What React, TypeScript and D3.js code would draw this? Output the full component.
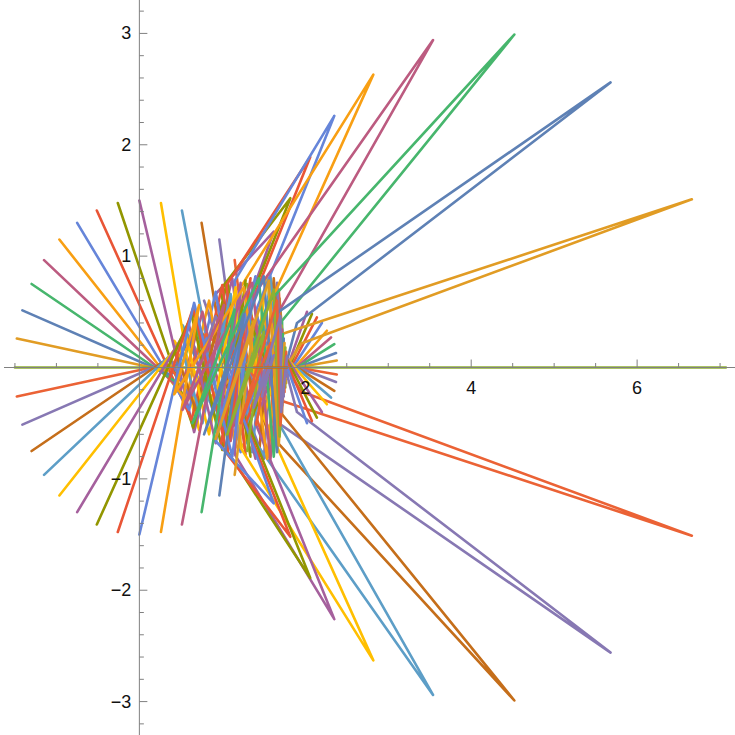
import * as d3 from 'd3';

// default Mathematica-ish palette, cycles every 15 series
const palette = [
  '#5E81B5', '#E19C24', '#8FB032', '#EB6235', '#8778B3',
  '#C56E1A', '#5D9EC7', '#FFBF00', '#A5609D', '#929600',
  '#E95536', '#6685D9', '#F89F13', '#BC5B80', '#47B66D',
];

// one polyline per start angle (10° .. 360°)
const s010 = [[1.477, 0.26], [1.62, -0.11], [1.38, 0.36], [1.7, -0.46], [1.71, 0.4], [1.78, -0.1], [1.76, 0.04]];
const s020 = [[1.41, 0.513], [1.58, -0.22], [1.22, 0.5], [1.66, -0.6], [1.7, 0.52], [1.77, -0.14], [1.75, 0.06]];
const s030 = [[1.299, 0.75], [1.5, -0.32], [1.06, 0.6], [1.62, -0.7], [1.69, 0.62], [1.76, -0.18], [1.74, 0.08]];
const s040 = [[1.149, 0.964], [1.38, -0.42], [0.92, 0.64], [1.56, -0.78], [1.68, 0.7], [1.75, -0.22], [1.73, 0.1]];
const s050 = [[0.964, 1.149], [1.26, -0.48], [0.78, 0.6], [1.5, -0.82], [1.66, 0.76], [1.74, -0.26], [1.72, 0.12]];
const s060 = [[0.75, 1.299], [1.15, -0.52], [0.64, 0.5], [1.44, -0.8], [1.62, 0.8], [1.73, -0.3], [1.71, 0.14]];
const s070 = [[0.513, 1.41], [1.02, -0.56], [0.52, 0.38], [1.36, -0.76], [1.58, 0.82], [1.72, -0.34], [1.7, 0.16]];
const s080 = [[0.26, 1.477], [0.72, -0.56], [0.42, 0.24], [1.26, -0.72], [1.54, 0.82], [1.71, -0.38], [1.69, 0.18]];
const s090 = [[0, 1.5], [0.66, -0.58], [1.12, 0.8], [1.4, -0.82], [0.92, 0.66], [1.62, 1.22], [1.25, 0.45], [1.67, -0.24], [2.02, 0.5]];
const s100 = [[-0.26, 1.477], [0.65, -0.54], [1.06, 0.78], [1.34, -0.8], [0.98, 0.7], [1.82, 1.52], [1.28, 0.5], [1.68, -0.22], [2.08, 0.48]];
const s110 = [[-0.513, 1.41], [0.63, -0.47], [1.0, 0.74], [1.28, -0.78], [1.05, 0.74], [2.06, 1.89], [1.32, 0.52], [1.69, -0.2], [2.14, 0.45]];
const s120 = [[-0.75, 1.299], [0.6, -0.38], [0.92, 0.68], [1.22, -0.76], [1.15, 0.78], [2.35, 2.26], [1.4, 0.5], [1.7, -0.17], [2.2, 0.4]];
const s130 = [[-0.964, 1.149], [0.56, -0.29], [0.84, 0.6], [1.16, -0.72], [1.22, 0.72], [2.82, 2.63], [1.5, 0.45], [1.71, -0.14], [2.26, 0.33]];
const s140 = [[-1.149, 0.964], [0.5, -0.2], [0.76, 0.5], [1.1, -0.66], [1.35, 0.62], [3.54, 2.94], [1.62, 0.42], [1.72, -0.11], [2.31, 0.27]];
const s150 = [[-1.299, 0.75], [0.44, -0.13], [0.68, 0.38], [1.02, -0.58], [1.55, 0.58], [4.52, 2.99], [1.72, 0.42], [1.73, -0.08], [2.35, 0.21]];
const s160 = [[-1.41, 0.513], [0.38, -0.07], [0.6, 0.26], [0.92, -0.46], [1.66, 0.49], [5.68, 2.56], [1.9, 0.4], [1.74, -0.05], [2.37, 0.13]];
const s170 = [[-1.477, 0.26], [0.33, -0.03], [0.52, 0.14], [0.8, -0.3], [1.72, 0.3], [6.66, 1.51], [1.95, 0.215], [1.75, -0.02], [2.38, 0.063]];
const s180 = [[-1.5, 0], [0.33, 0], [0.52, 0], [0.8, 0], [1.72, 0], [7.07, 0], [1.96, 0], [1.76, 0], [2.39, 0]];
const s190 = [[-1.477, -0.26], [0.33, 0.03], [0.52, -0.14], [0.8, 0.3], [1.72, -0.3], [6.66, -1.51], [1.95, -0.215], [1.75, 0.02], [2.38, -0.063]];
const s200 = [[-1.41, -0.513], [0.38, 0.07], [0.6, -0.26], [0.92, 0.46], [1.66, -0.49], [5.68, -2.56], [1.9, -0.4], [1.74, 0.05], [2.37, -0.13]];
const s210 = [[-1.299, -0.75], [0.44, 0.13], [0.68, -0.38], [1.02, 0.58], [1.55, -0.58], [4.52, -2.99], [1.72, -0.42], [1.73, 0.08], [2.35, -0.21]];
const s220 = [[-1.149, -0.964], [0.5, 0.2], [0.76, -0.5], [1.1, 0.66], [1.35, -0.62], [3.54, -2.94], [1.62, -0.42], [1.72, 0.11], [2.31, -0.27]];
const s230 = [[-0.964, -1.149], [0.56, 0.29], [0.84, -0.6], [1.16, 0.72], [1.22, -0.72], [2.82, -2.63], [1.5, -0.45], [1.71, 0.14], [2.26, -0.33]];
const s240 = [[-0.75, -1.299], [0.6, 0.38], [0.92, -0.68], [1.22, 0.76], [1.15, -0.78], [2.35, -2.26], [1.4, -0.5], [1.7, 0.17], [2.2, -0.4]];
const s250 = [[-0.513, -1.41], [0.63, 0.47], [1.0, -0.74], [1.28, 0.78], [1.05, -0.74], [2.06, -1.89], [1.32, -0.52], [1.69, 0.2], [2.14, -0.45]];
const s260 = [[-0.26, -1.477], [0.65, 0.54], [1.06, -0.78], [1.34, 0.8], [0.98, -0.7], [1.82, -1.52], [1.28, -0.5], [1.68, 0.22], [2.08, -0.48]];
const s270 = [[0, -1.5], [0.66, 0.58], [1.12, -0.8], [1.4, 0.82], [0.92, -0.66], [1.62, -1.22], [1.25, -0.45], [1.67, 0.24], [2.02, -0.5]];
const s280 = [[0.26, -1.477], [0.72, 0.56], [0.42, -0.24], [1.26, 0.72], [1.54, -0.82], [1.71, 0.38], [1.69, -0.18]];
const s290 = [[0.513, -1.41], [1.02, 0.56], [0.52, -0.38], [1.36, 0.76], [1.58, -0.82], [1.72, 0.34], [1.7, -0.16]];
const s300 = [[0.75, -1.299], [1.15, 0.52], [0.64, -0.5], [1.44, 0.8], [1.62, -0.8], [1.73, 0.3], [1.71, -0.14]];
const s310 = [[0.964, -1.149], [1.26, 0.48], [0.78, -0.6], [1.5, 0.82], [1.66, -0.76], [1.74, 0.26], [1.72, -0.12]];
const s320 = [[1.149, -0.964], [1.38, 0.42], [0.92, -0.64], [1.56, 0.78], [1.68, -0.7], [1.75, 0.22], [1.73, -0.1]];
const s330 = [[1.299, -0.75], [1.5, 0.32], [1.06, -0.6], [1.62, 0.7], [1.69, -0.62], [1.76, 0.18], [1.74, -0.08]];
const s340 = [[1.41, -0.513], [1.58, 0.22], [1.22, -0.5], [1.66, 0.6], [1.7, -0.52], [1.77, 0.14], [1.75, -0.06]];
const s350 = [[1.477, -0.26], [1.62, 0.11], [1.38, -0.36], [1.7, 0.46], [1.71, -0.4], [1.78, 0.1], [1.76, -0.04]];
const s360 = [[1.5, 0], [1.62, 0], [1.38, 0], [1.7, 0], [1.78, 0], [1.76, 0]];

const series = [
  s010, s020, s030, s040, s050, s060, s070, s080, s090, s100, s110, s120,
  s130, s140, s150, s160, s170, s180, s190, s200, s210, s220, s230, s240,
  s250, s260, s270, s280, s290, s300, s310, s320, s330, s340, s350, s360,
];

const xLabels = [2, 4, 6];
const yLabels = [-3, -2, -1, 1, 2, 3];

export default function App() {
  const W = 735;
  const H = 735;
  const x = d3.scaleLinear().domain([-1.68, 7.18]).range([0, W]);
  const y = d3.scaleLinear().domain([-3.3, 3.3]).range([H, 0]);
  const line = d3.line<number[]>().x(d => x(d[0])).y(d => y(d[1]));

  const x0 = x(0);
  const y0 = y(0);
  const axisCol = '#808080';

  // minor ticks: x every 0.5, y every 0.2
  const xMinor = d3.range(-3, 15).map(k => k * 0.5).filter(v => v % 2 !== 0 && v > -1.6 && v < 7.1);
  const yMinor = d3.range(-16, 17).map(k => k / 5).filter(v => Math.abs(v - Math.round(v)) > 1e-6);

  const font = "'Liberation Sans', Arial, sans-serif";

  return (
    <div style={{ position: 'absolute', left: 0, top: 0 }}>
      <svg width={W} height={H} style={{ display: 'block', background: '#fff' }}>
        {/* polylines */}
        {series.map((pts, i) => (
          <path key={i} d={line(pts) || ''} fill="none" stroke={palette[i % 15]}
            strokeWidth={2.6} strokeLinejoin="round" strokeLinecap="round" />
        ))}
        {/* axes on top */}
        <line x1={4} x2={W} y1={y0} y2={y0} stroke={axisCol} strokeWidth={1} />
        <line x1={x0} x2={x0} y1={0} y2={H} stroke={axisCol} strokeWidth={1} />
        {xMinor.map(v => (
          <line key={'xm' + v} x1={x(v)} x2={x(v)} y1={y0} y2={y0 - 4.5} stroke={axisCol} />
        ))}
        {xLabels.map(v => (
          <g key={'xl' + v}>
            <line x1={x(v)} x2={x(v)} y1={y0} y2={y0 - 8} stroke={axisCol} />
            <text x={x(v)} y={y0 + 20} textAnchor="middle" dominantBaseline="central"
              fontFamily={font} fontSize={18} fill="#111">{v}</text>
          </g>
        ))}
        {yMinor.map(v => (
          <line key={'ym' + v} x1={x0} x2={x0 + 4.5} y1={y(v)} y2={y(v)} stroke={axisCol} />
        ))}
        {yLabels.map(v => (
          <g key={'yl' + v}>
            <line x1={x0} x2={x0 + 8} y1={y(v)} y2={y(v)} stroke={axisCol} />
            <text x={x0 - 8} y={y(v)} textAnchor="end" dominantBaseline="central"
              fontFamily={font} fontSize={18} fill="#111">
              {v < 0 ? '\u2212' + Math.abs(v) : String(v)}
            </text>
          </g>
        ))}
      </svg>
    </div>
  );
}
